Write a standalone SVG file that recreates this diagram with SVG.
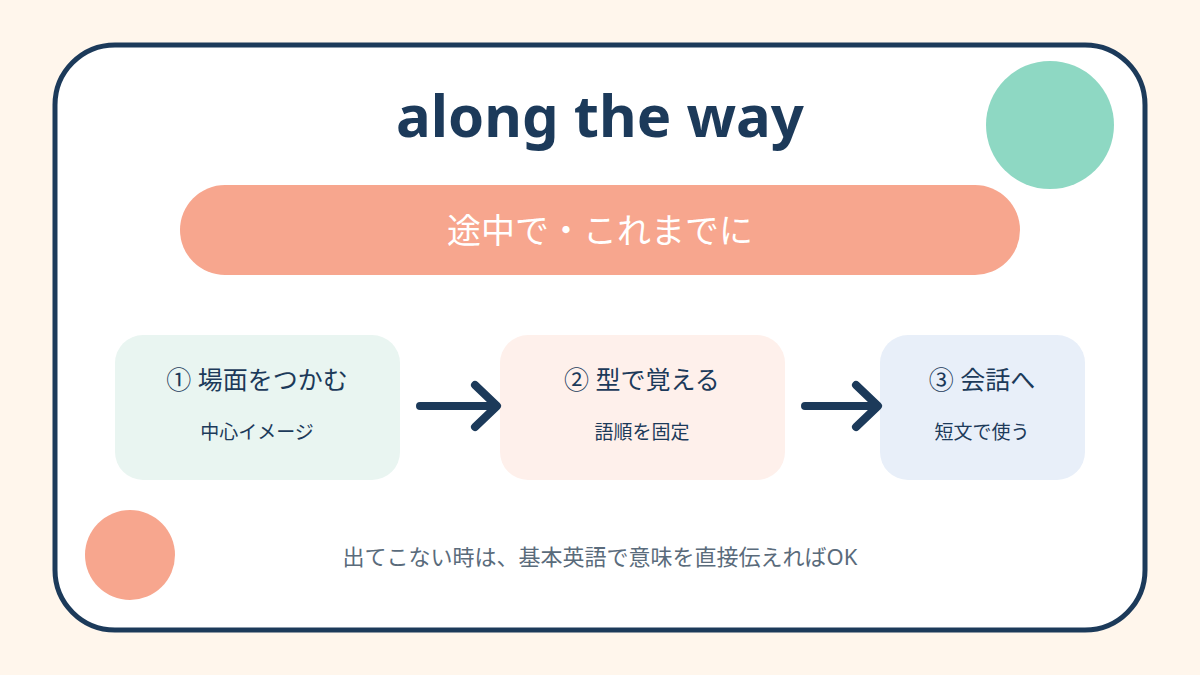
<svg xmlns="http://www.w3.org/2000/svg" width="1200" height="675" viewBox="0 0 1200 675">
<style>
text{font-family:"Noto Sans","Noto Sans CJK JP",sans-serif;text-anchor:middle}
.t{font-size:25px;fill:#1c3a5a}
.s{font-size:19px;fill:#1c3a5a}
.a{fill:none;stroke:#1c3a5a;stroke-width:8;stroke-linecap:round;stroke-linejoin:round}
</style>
<rect width="1200" height="675" fill="#FFF6EC"/>
<rect x="55" y="45" width="1090" height="585" rx="60" fill="#fff" stroke="#1c3a5a" stroke-width="5"/>
<circle cx="1050" cy="125" r="64" fill="#8ED8C3"/>
<circle cx="130" cy="555" r="45" fill="#F7A68E"/>
<text x="600" y="137" font-size="58" font-weight="bold" fill="#1c3a5a">along the way</text>
<g id="banner"><rect x="180" y="185" width="840" height="90" rx="45" fill="#F7A68E"/>
<text x="600" y="243" font-size="34" fill="#fff">途中で・これまでに</text></g>
<g id="n1"><rect x="115" y="335" width="285" height="145" rx="28" fill="#E9F5F1"/>
<text class="t" x="257" y="389">① 場面をつかむ</text><text class="s" x="257" y="439">中心イメージ</text></g>
<g id="n2"><rect x="500" y="335" width="285" height="145" rx="28" fill="#FEF0EB"/>
<text class="t" x="642" y="389">② 型で覚える</text><text class="s" x="642" y="439">語順を固定</text></g>
<g id="n3"><rect x="880" y="335" width="205" height="145" rx="28" fill="#E8EFF9"/>
<text class="t" x="982" y="389">③ 会話へ</text><text class="s" x="982" y="439">短文で使う</text></g>
<g id="connectors">
<path class="a" d="M420 406H495M475 385L497 406L475 427"/>
<path class="a" d="M805 406H876M856 385L878 406L856 427"/>
</g>
<text x="600" y="565" font-size="22" fill="#5a6b7b">出てこない時は、基本英語で意味を直接伝えればOK</text>
</svg>
